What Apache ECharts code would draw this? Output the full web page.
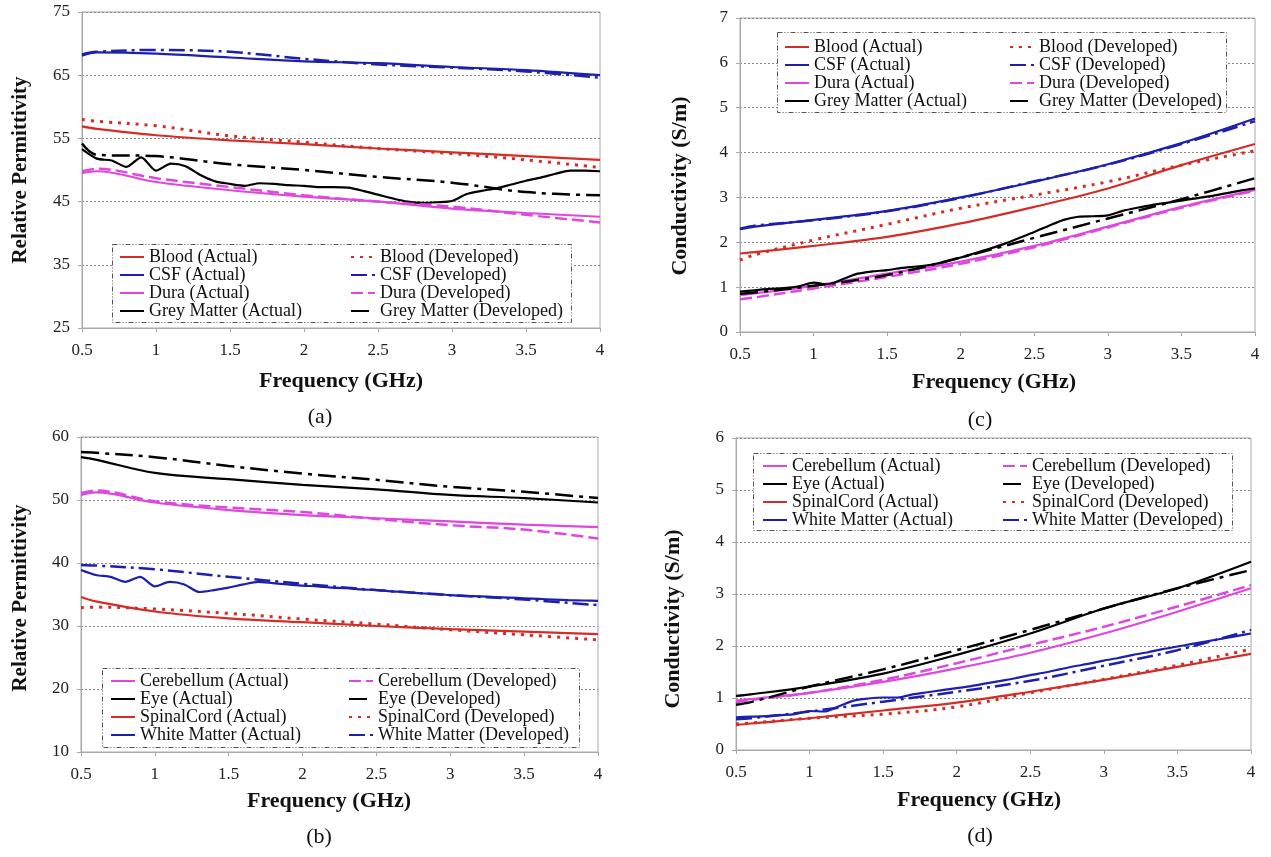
<!DOCTYPE html>
<html>
<head>
<meta charset="utf-8">
<script src="https://cdn.jsdelivr.net/npm/echarts@6/dist/echarts.min.js"></script>
<style>html,body{margin:0;padding:0;background:#fff;}#c{width:1271px;height:857px;}</style>
</head>
<body>
<div id="c"></div>
<script>
// ---------- shared frequency grids (GHz) ----------
const freqS = [0.5, 0.6, 1, 1.5, 2, 2.5, 3, 3.5, 4];
const freqF = [0.5,0.6,0.7,0.8,0.9,1.0,1.1,1.2,1.3,1.4,1.5,1.6,1.7,1.8,1.9,2.0,2.1,2.2,2.3,2.4,2.5,2.6,2.7,2.8,2.9,3.0,3.1,3.2,3.3,3.4,3.5,3.6,3.7,3.8,3.9,4.0];

// ---------- axis ticks ----------
const xTicks = {min: 0.5, max: 4, interval: 0.5};
const yTicksA = {min: 25, max: 75, interval: 10};
const yTicksB = {min: 10, max: 60, interval: 10};
const yTicksC = {min: 0, max: 7, interval: 1};
const yTicksD = {min: 0, max: 6, interval: 1};

// ---------- (a) relative permittivity ----------
const bloodA_act = [56.9, 56.5, 55.5, 54.7, 54.1, 53.4, 52.8, 52.2, 51.6];
const bloodA_dev = [58.0, 57.7, 57.0, 55.4, 54.4, 53.4, 52.6, 51.6, 50.4];
const csfA_act   = [68.1, 68.6, 68.4, 67.8, 67.2, 66.9, 66.3, 65.8, 65.0];
const csfA_dev   = [68.3, 68.7, 69.0, 68.7, 67.6, 66.7, 66.2, 65.6, 64.6];
const duraA_act  = [49.5, 49.8, 48.1, 46.8, 45.8, 45.0, 43.9, 43.2, 42.6];
const duraA_dev  = [49.8, 50.2, 48.7, 47.3, 46.0, 45.0, 44.2, 42.9, 41.7];
const greyA_dev  = [54.2, 52.4, 52.2, 50.9, 50.0, 48.9, 48.0, 46.5, 46.0];
const greyA_act  = [53.3,51.8,51.5,50.5,52.0,49.9,51.0,50.6,49.2,48.2,47.8,47.5,47.9,47.8,47.6,47.5,47.3,47.3,47.2,46.7,46.1,45.5,45.0,44.8,44.9,45.1,46.2,46.7,47.1,47.7,48.3,48.8,49.4,49.9,49.9,49.8];

// ---------- (b) relative permittivity ----------
const cereB_act  = [50.8, 51.2, 49.6, 48.4, 47.6, 47.1, 46.6, 46.1, 45.7];
const cereB_dev  = [51.1, 51.5, 49.8, 48.8, 48.1, 47.0, 46.0, 45.3, 43.9];
const eyeB_act   = [56.8, 56.4, 54.3, 53.3, 52.4, 51.7, 50.8, 50.3, 49.6];
const eyeB_dev   = [57.6, 57.5, 56.8, 55.4, 54.2, 53.2, 52.1, 51.3, 50.3];
const spineB_act = [34.6, 33.9, 32.3, 31.2, 30.6, 30.0, 29.5, 29.1, 28.7];
const spineB_dev = [32.9, 33.0, 32.7, 32.0, 31.1, 30.3, 29.4, 28.6, 27.8];
const wmB_dev    = [39.7, 39.6, 39.0, 37.8, 36.7, 35.7, 34.9, 34.2, 33.3];
const wmB_act    = [38.9,38.1,37.8,37.0,37.8,36.3,37.0,36.6,35.4,35.7,36.1,36.6,37.0,36.8,36.6,36.4,36.3,36.1,36.0,35.8,35.7,35.5,35.4,35.2,35.1,34.9,34.8,34.7,34.6,34.5,34.4,34.3,34.2,34.1,34.05,34.0];

// ---------- (c) conductivity ----------
const bloodC_act = [1.75, 1.78, 1.92, 2.12, 2.42, 2.79, 3.20, 3.72, 4.19];
const bloodC_dev = [1.60, 1.72, 2.05, 2.40, 2.76, 3.05, 3.35, 3.72, 4.04];
const csfC_act   = [2.29, 2.35, 2.50, 2.70, 3.00, 3.35, 3.74, 4.21, 4.76];
const csfC_dev   = [2.30, 2.37, 2.49, 2.69, 2.99, 3.36, 3.73, 4.19, 4.70];
const duraC_act  = [0.82, 0.86, 1.03, 1.30, 1.57, 1.92, 2.35, 2.79, 3.17];
const duraC_dev  = [0.73, 0.77, 0.97, 1.23, 1.52, 1.89, 2.33, 2.77, 3.15];
const greyC_dev  = [0.85, 0.88, 1.03, 1.27, 1.66, 2.10, 2.53, 2.96, 3.43];
const greyC_act  = [0.90,0.93,0.96,0.98,1.02,1.10,1.06,1.18,1.30,1.35,1.38,1.43,1.46,1.50,1.57,1.66,1.76,1.86,1.97,2.10,2.23,2.37,2.50,2.57,2.58,2.60,2.70,2.77,2.83,2.88,2.93,2.98,3.03,3.09,3.15,3.20];

// ---------- (d) conductivity ----------
const cereD_act  = [0.95, 0.98, 1.10, 1.31, 1.57, 1.87, 2.24, 2.66, 3.11];
const cereD_dev  = [0.92, 0.96, 1.10, 1.35, 1.67, 2.02, 2.37, 2.76, 3.17];
const eyeD_act   = [1.04, 1.07, 1.22, 1.47, 1.83, 2.24, 2.72, 3.11, 3.62];
const eyeD_dev   = [0.87, 0.92, 1.22, 1.55, 1.92, 2.31, 2.72, 3.11, 3.46];
const spineD_act = [0.48, 0.51, 0.61, 0.76, 0.91, 1.12, 1.35, 1.60, 1.85];
const spineD_dev = [0.50, 0.52, 0.61, 0.69, 0.83, 1.10, 1.36, 1.63, 1.94];
const wmD_dev    = [0.59, 0.61, 0.74, 0.93, 1.12, 1.33, 1.62, 1.92, 2.31];
const wmD_act    = [0.63,0.64,0.65,0.67,0.69,0.75,0.74,0.84,0.95,0.99,1.01,1.01,1.07,1.11,1.15,1.19,1.23,1.28,1.33,1.38,1.44,1.49,1.55,1.61,1.66,1.72,1.77,1.83,1.88,1.94,1.99,2.04,2.09,2.14,2.19,2.24];

// ---------- names ----------
const namesTop = ['Blood', 'CSF', 'Dura', 'Grey Matter'];
const namesBot = ['Cerebellum', 'Eye', 'SpinalCord', 'White Matter'];

// ---------- styles ----------
const FONT = 'Liberation Serif';
const RED = '#d42d27', BLUE = '#1d1fae', MAG = '#de48de', BLK = '#000000';
const DOT = [3, 6], DASHDOT = [16, 5, 3, 5], DASH = [12, 5], LDASHDOT = [18, 6, 4, 6];

function pairs(xs, ys) { return xs.map((x, i) => [x, ys[i]]); }
function ser(name, xs, ys, color, dash, gi, w) {
  return {
    name: name, type: 'line', xAxisIndex: gi, yAxisIndex: gi, z: 2,
    data: pairs(xs, ys), showSymbol: false, symbol: 'none',
    smooth: xs.length > 20 ? 0.25 : 0.35,
    lineStyle: {color: color, width: w || 2.2, type: dash || 'solid', cap: 'butt'},
    itemStyle: {color: color}, emphasis: {disabled: true}, animation: false
  };
}

const series = [
  // (a)
  ser('Blood (Actual)', freqS, bloodA_act, RED, null, 0),
  ser('CSF (Actual)', freqS, csfA_act, BLUE, null, 0),
  ser('Dura (Actual)', freqS, duraA_act, MAG, null, 0),
  ser('Grey Matter (Actual)', freqF, greyA_act, BLK, null, 0),
  ser('Blood (Developed)', freqS, bloodA_dev, RED, DOT, 0, 3),
  ser('CSF (Developed)', freqS, csfA_dev, BLUE, DASHDOT, 0, 2.5),
  ser('Dura (Developed)', freqS, duraA_dev, MAG, DASH, 0, 2.5),
  ser('Grey Matter (Developed)', freqS, greyA_dev, BLK, LDASHDOT, 0, 2.5),
  // (c)
  ser('Blood (Actual)', freqS, bloodC_act, RED, null, 1),
  ser('CSF (Actual)', freqS, csfC_act, BLUE, null, 1),
  ser('Dura (Actual)', freqS, duraC_act, MAG, null, 1),
  ser('Grey Matter (Actual)', freqF, greyC_act, BLK, null, 1),
  ser('Blood (Developed)', freqS, bloodC_dev, RED, DOT, 1, 3),
  ser('CSF (Developed)', freqS, csfC_dev, BLUE, DASHDOT, 1, 2.5),
  ser('Dura (Developed)', freqS, duraC_dev, MAG, DASH, 1, 2.5),
  ser('Grey Matter (Developed)', freqS, greyC_dev, BLK, LDASHDOT, 1, 2.5),
  // (b)
  ser('Cerebellum (Actual)', freqS, cereB_act, MAG, null, 2),
  ser('Eye (Actual)', freqS, eyeB_act, BLK, null, 2),
  ser('SpinalCord (Actual)', freqS, spineB_act, RED, null, 2),
  ser('White Matter (Actual)', freqF, wmB_act, BLUE, null, 2),
  ser('Cerebellum (Developed)', freqS, cereB_dev, MAG, DASH, 2, 2.5),
  ser('Eye (Developed)', freqS, eyeB_dev, BLK, LDASHDOT, 2, 2.5),
  ser('SpinalCord (Developed)', freqS, spineB_dev, RED, DOT, 2, 3),
  ser('White Matter (Developed)', freqS, wmB_dev, BLUE, DASHDOT, 2, 2.5),
  // (d)
  ser('Cerebellum (Actual)', freqS, cereD_act, MAG, null, 3),
  ser('Eye (Actual)', freqS, eyeD_act, BLK, null, 3),
  ser('SpinalCord (Actual)', freqS, spineD_act, RED, null, 3),
  ser('White Matter (Actual)', freqF, wmD_act, BLUE, null, 3),
  ser('Cerebellum (Developed)', freqS, cereD_dev, MAG, DASH, 3, 2.5),
  ser('Eye (Developed)', freqS, eyeD_dev, BLK, LDASHDOT, 3, 2.5),
  ser('SpinalCord (Developed)', freqS, spineD_dev, RED, DOT, 3, 3),
  ser('White Matter (Developed)', freqS, wmD_dev, BLUE, DASHDOT, 3, 2.5)
];

const grids = [
  {left: 82, top: 12, width: 518, height: 316},
  {left: 740, top: 18, width: 515, height: 314},
  {left: 81, top: 437, width: 517, height: 315},
  {left: 736, top: 438, width: 515, height: 312}
].map(g => Object.assign(g, {show: true, borderColor: '#a8a8a8', borderWidth: 1, backgroundColor: '#fff', containLabel: false}));

const yT = [yTicksA, yTicksC, yTicksB, yTicksD];

const xAxes = grids.map((g, i) => ({
  type: 'value', gridIndex: i, min: xTicks.min, max: xTicks.max, interval: xTicks.interval,
  axisLine: {show: true, lineStyle: {color: '#a8a8a8', width: 1}},
  axisTick: {show: true, length: 4, lineStyle: {color: '#a8a8a8'}},
  axisLabel: {color: '#222', fontFamily: FONT, fontSize: 17, margin: 14},
  splitLine: {show: false}
}));
const yAxes = grids.map((g, i) => ({
  type: 'value', gridIndex: i, min: yT[i].min, max: yT[i].max, interval: yT[i].interval,
  axisLine: {show: true, lineStyle: {color: '#a8a8a8', width: 1}},
  axisTick: {show: true, length: 4, lineStyle: {color: '#a8a8a8'}},
  axisLabel: {color: '#222', fontFamily: FONT, fontSize: 17, margin: 12},
  splitLine: {show: true, lineStyle: {color: '#888', type: [2, 2], width: 1}}
}));

function leg(names, left, top) {
  return {
    data: names, left: left, top: top, orient: 'vertical', selectedMode: false, z: 10,
    itemWidth: 24, itemHeight: 10, itemGap: 0, padding: 0,
    itemStyle: {opacity: 0, borderWidth: 0},
    textStyle: {fontFamily: FONT, fontSize: 18, color: '#111', lineHeight: 18}
  };
}
const legends = [
  leg(namesTop.map(n => n + ' (Actual)'), 119, 248),
  leg(namesTop.map(n => n + ' (Developed)'), 350, 248),
  leg(namesTop.map(n => n + ' (Actual)'), 784, 38),
  leg(namesTop.map(n => n + ' (Developed)'), 1009, 38),
  leg(namesBot.map(n => n + ' (Actual)'), 110, 672),
  leg(namesBot.map(n => n + ' (Developed)'), 348, 672),
  leg(namesBot.map(n => n + ' (Actual)'), 762, 457),
  leg(namesBot.map(n => n + ' (Developed)'), 1002, 457)
];

function box(x1, y1, x2, y2) {
  return {type: 'rect', z: 5, silent: true, shape: {x: x1 + 0.5, y: y1 + 0.5, width: x2 - x1, height: y2 - y1},
    style: {fill: '#fff', stroke: '#555', lineWidth: 1, lineDash: [5, 2, 1, 2, 1, 2]}};
}
function txt(s, x, y, size, bold, rot) {
  return {type: 'text', z: 60, silent: true, x: x, y: y, rotation: rot || 0,
    style: {text: s, x: 0, y: 0, align: 'center', verticalAlign: 'middle', fill: '#111',
      fontFamily: FONT, fontSize: size, fontWeight: bold ? 'bold' : 'normal'}};
}

const graphics = [
  box(112, 244, 571, 322), box(777, 32, 1226, 112), box(102, 668, 579, 747), box(753, 453, 1232, 530),
  txt('Relative Permittivity', 21, 170, 21, true, Math.PI / 2),
  txt('Relative Permittivity', 21, 598, 21, true, Math.PI / 2),
  txt('Conductivity (S/m)', 680, 186, 22, true, Math.PI / 2),
  txt('Conductivity (S/m)', 673, 619, 22, true, Math.PI / 2),
  txt('Frequency (GHz)', 341, 381, 22, true),
  txt('Frequency (GHz)', 329, 801, 22, true),
  txt('Frequency (GHz)', 994, 382, 22, true),
  txt('Frequency (GHz)', 979, 800, 22, true),
  txt('(a)', 320, 417, 22, false),
  txt('(c)', 980, 420, 22, false),
  txt('(b)', 319, 837, 22, false),
  txt('(d)', 980, 836, 22, false)
];

const chart = echarts.init(document.getElementById('c'), null, {renderer: 'canvas'});
chart.setOption({
  animation: false,
  backgroundColor: '#fff',
  grid: grids, xAxis: xAxes, yAxis: yAxes,
  legend: legends,
  graphic: {elements: graphics},
  series: series
});
</script>
</body>
</html>
